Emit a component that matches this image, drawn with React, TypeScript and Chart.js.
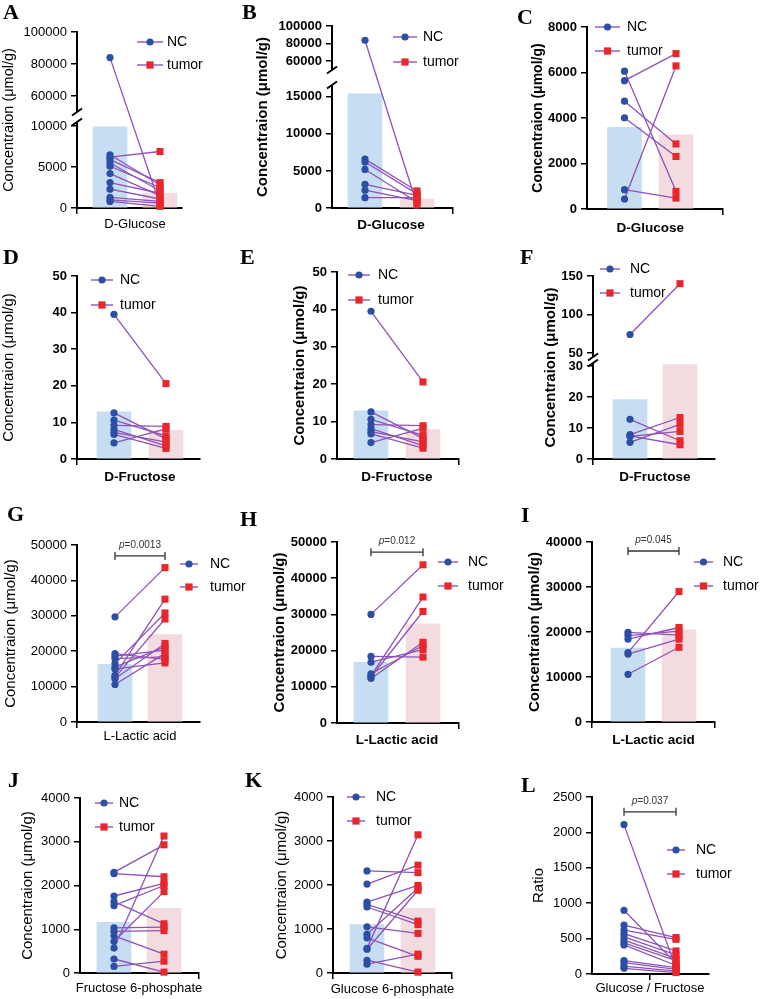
import React, { useEffect, useRef } from 'react';
import { Chart, registerables, LinearScale } from 'chart.js';

// ---------------------------------------------------------------------------
// Measured values (paired samples: NC[i] belongs with tumor[i])
// ---------------------------------------------------------------------------
const glucoseA_nc = [84000, 6500, 6200, 5900, 5500, 5100, 4200, 3100, 2300, 1300, 1000, 800];
const glucoseA_tumor = [400, 2800, 6900, 3100, 2100, 2500, 1500, 1800, 1100, 800, 600, 200];
const glucoseA_means = [9900, 1800];
const glucoseA_ticks = [0, 5000, 10000, 60000, 80000, 100000];

const glucoseB_nc = [83800, 6600, 6200, 5200, 3200, 2400, 1400];
const glucoseB_tumor = [400, 2300, 1900, 800, 1700, 1000, 1400];
const glucoseB_means = [15400, 1200];
const glucoseB_ticks = [0, 5000, 10000, 15000, 60000, 80000, 100000];

const glucoseC_nc = [6060, 5640, 4740, 4010, 850, 440];
const glucoseC_tumor = [775, 6830, 2860, 2310, 480, 6290];
const glucoseC_means = [3590, 3255];
const glucoseC_ticks = [0, 2000, 4000, 6000, 8000];

const fructoseDE_nc = [39.5, 12.6, 10.6, 9.2, 8.1, 7.3, 6.7, 4.4];
const fructoseDE_tumor = [20.6, 5.5, 6.3, 8.9, 3.6, 4.6, 2.9, 8.2];
const fructoseDE_means = [12.9, 7.85];
const fructoseDE_ticks = [0, 10, 20, 30, 40, 50];

const fructoseF_nc = [74, 12.8, 7.9, 7.5, 7.3, 5.4];
const fructoseF_tumor = [140, 5.9, 13.4, 4.6, 8.9, 11.2];
const fructoseF_means = [19.2, 30.5];
const fructoseF_ticks = [0, 10, 20, 30, 50, 100, 150];

const lactateG_nc = [29700, 19300, 18600, 17900, 16500, 15500, 15000, 13200, 12600, 12200, 10600];
const lactateG_tumor = [43600, 17700, 20300, 18400, 30800, 21300, 16700, 34700, 29100, 22200, 19400];
const lactateG_means = [16300, 24700];
const lactateGH_ticks = [0, 10000, 20000, 30000, 40000, 50000];

const lactateH_nc = [30000, 18400, 16800, 13600, 13000, 12700, 12300];
const lactateH_tumor = [43700, 18200, 20300, 21400, 34800, 30800, 22300];
const lactateH_means = [16750, 27400];

const lactateI_nc = [19900, 19200, 18400, 15400, 15100, 10600];
const lactateI_tumor = [19300, 20200, 21000, 29000, 18400, 16600];
const lactateI_means = [16400, 20500];
const lactateI_ticks = [0, 10000, 20000, 30000, 40000];

const f6pJ_nc = [2300, 2270, 1760, 1630, 1540, 1030, 950, 850, 720, 570, 320, 150];
const f6pJ_tumor = [2930, 2200, 2050, 1125, 2000, 1050, 970, 430, 1860, 3130, 20, 270];
const f6pJ_means = [1160, 1480];
const phosphate_ticks = [0, 1000, 2000, 3000, 4000];

const g6pK_nc = [2320, 2020, 1610, 1560, 1500, 1050, 880, 800, 560, 540, 290, 200];
const g6pK_tumor = [2280, 2450, 1990, 1180, 1100, 900, 1930, 380, 3140, 1880, 20, 430];
const g6pK_means = [1100, 1470];

const ratioL_nc = [2110, 900, 690, 620, 570, 525, 480, 440, 410, 190, 160, 110, 80];
const ratioL_tumor = [80, 150, 515, 490, 325, 270, 220, 190, 120, 90, 65, 40, 20];
const ratioL_ticks = [0, 500, 1000, 1500, 2000, 2500];

const groupLabels = ['NC', 'tumor'];
const concTitle = 'Concentraion (μmol/g)';

// ---------------------------------------------------------------------------
// Styling
// ---------------------------------------------------------------------------
const FONT = 'Arial, "Liberation Sans", Helvetica, sans-serif';
const SERIF = '"Liberation Serif", "Times New Roman", Times, serif';
const NC_BLUE = '#2c4fa5';
const TUMOR_RED = '#e8262b';
const PAIR_LINE = '#8e52b8';
const BAR_NC = '#c7ddf1';
const BAR_TUMOR = '#f2dcdf';

// y scale that supports one axis break (lower segment 0..breaks[0], upper breaks[1]..max)
class BrokenLinearScale extends LinearScale {
  static id = 'brokenLinear';

  buildTicks() {
    const vals: number[] = (this.options as any).tickValues || [];
    return vals.map((v: number) => ({ value: v }));
  }

  breakFraction(v: number): number {
    const o: any = this.options;
    const br: number[] = o.breaks;
    const bf: number[] = o.breakFracs;
    const min = this.min;
    const max = this.max;
    if (v <= br[0]) return ((v - min) / (br[0] - min)) * bf[0];
    if (v >= br[1]) return bf[1] + ((v - br[1]) / (max - br[1])) * (1 - bf[1]);
    return bf[0] + ((v - br[0]) / (br[1] - br[0])) * (bf[1] - bf[0]);
  }

  getPixelForValue(value: number) {
    const o: any = this.options;
    if (value === null || value === undefined || isNaN(value)) return NaN;
    if (!o.breaks) return super.getPixelForValue(value);
    return this.getPixelForDecimal(this.breakFraction(value));
  }

  drawBorder() {
    const o: any = this.options;
    if (!o.breaks) {
      super.drawBorder();
      return;
    }
    const br: number[] = o.breaks;
    const ctx = this.ctx;
    const x = this.right;
    const yLowTop = this.getPixelForValue(br[0]);
    const yHighBottom = this.getPixelForValue(br[1]);
    ctx.save();
    ctx.strokeStyle = '#000';
    ctx.lineWidth = 2;
    ctx.lineCap = 'butt';
    ctx.beginPath();
    ctx.moveTo(x, this.bottom + 1);
    ctx.lineTo(x, yLowTop);
    ctx.moveTo(x, yHighBottom);
    ctx.lineTo(x, this.top - 1);
    // break marks
    ctx.moveTo(x - 5, yLowTop + 3.5);
    ctx.lineTo(x + 5, yLowTop - 3.5);
    ctx.moveTo(x - 5, yHighBottom + 3.5);
    ctx.lineTo(x + 5, yHighBottom - 3.5);
    ctx.stroke();
    ctx.restore();
  }
}

Chart.register(...registerables, BrokenLinearScale);

// ---------------------------------------------------------------------------
// Panel definitions
// ---------------------------------------------------------------------------
interface PanelSpec {
  id: string;
  category: string;
  yTitle: string;
  nc: number[];
  tumor: number[];
  means?: number[];
  ticks: number[];
  yMax: number;
  breaks?: number[];
  pText?: string;
  pValue?: number;
  // layout (page pixels)
  box: number[]; // left, top, width, height of the canvas
  area: number[]; // chart area left, top, right, bottom
  centers: number[]; // x pixel of the NC and tumor columns
  breakFracs?: number[];
  tickBold: boolean;
  titleBold: boolean;
  titleSize: number;
  titlePad: number;
  xBold: boolean;
  xPad: number;
  legend: number[]; // line x1, line x2, text x, y NC, y tumor
  letterPos: number[];
}

const PANELS: PanelSpec[] = [
  {
    id: 'A', category: 'D-Glucose', yTitle: concTitle,
    nc: glucoseA_nc, tumor: glucoseA_tumor, means: glucoseA_means, ticks: glucoseA_ticks,
    yMax: 100000, breaks: [10500, 50000], breakFracs: [0.4886, 0.5455],
    box: [0, 0, 250, 236], area: [77, 32, 182, 208], centers: [110, 160],
    tickBold: false, titleBold: false, titleSize: 14.5, titlePad: 0, xBold: false, xPad: 3,
    legend: [137, 163, 167, 42, 65], letterPos: [3, 1],
  },
  {
    id: 'B', category: 'D-Glucose', yTitle: concTitle,
    nc: glucoseB_nc, tumor: glucoseB_tumor, means: glucoseB_means, ticks: glucoseB_ticks,
    yMax: 100000, breaks: [16600, 50000], breakFracs: [0.6758, 0.7582],
    box: [250, 0, 255, 236], area: [332, 26, 453, 208], centers: [365, 417],
    tickBold: true, titleBold: true, titleSize: 15, titlePad: 4, xBold: true, xPad: 3,
    legend: [393, 417, 423, 37, 62], letterPos: [242, 1],
  },
  {
    id: 'C', category: 'D-Glucose', yTitle: concTitle,
    nc: glucoseC_nc, tumor: glucoseC_tumor, means: glucoseC_means, ticks: glucoseC_ticks,
    yMax: 8000,
    box: [505, 0, 259, 236], area: [587, 27, 723, 209], centers: [624.5, 676],
    tickBold: true, titleBold: true, titleSize: 14, titlePad: 25, xBold: true, xPad: 5,
    legend: [595, 620, 627, 27, 51], letterPos: [517, 6],
  },
  {
    id: 'D', category: 'D-Fructose', yTitle: concTitle,
    nc: fructoseDE_nc, tumor: fructoseDE_tumor, means: fructoseDE_means, ticks: fructoseDE_ticks,
    yMax: 50,
    box: [0, 236, 250, 254], area: [77, 276, 200, 459], centers: [114, 166],
    tickBold: true, titleBold: false, titleSize: 15, titlePad: 0, xBold: true, xPad: 4,
    legend: [91, 113, 120, 280, 305], letterPos: [3, 246],
  },
  {
    id: 'E', category: 'D-Fructose', yTitle: concTitle,
    nc: fructoseDE_nc, tumor: fructoseDE_tumor, means: fructoseDE_means, ticks: fructoseDE_ticks,
    yMax: 50,
    box: [250, 236, 255, 254], area: [337, 272, 459, 459], centers: [371, 423],
    tickBold: true, titleBold: true, titleSize: 15, titlePad: 41, xBold: true, xPad: 4,
    legend: [348, 370, 378, 275, 300], letterPos: [240, 246],
  },
  {
    id: 'F', category: 'D-Fructose', yTitle: concTitle,
    nc: fructoseF_nc, tumor: fructoseF_tumor, means: fructoseF_means, ticks: fructoseF_ticks,
    yMax: 150, breaks: [31, 44.8], breakFracs: [0.5246, 0.5574],
    box: [505, 236, 259, 254], area: [593, 276, 715, 459], centers: [630, 680],
    tickBold: true, titleBold: true, titleSize: 15, titlePad: 37, xBold: true, xPad: 4,
    legend: [600, 620, 630, 269, 293], letterPos: [520, 246],
  },
  {
    id: 'G', category: 'L-Lactic acid', yTitle: concTitle,
    nc: lactateG_nc, tumor: lactateG_tumor, means: lactateG_means, ticks: lactateGH_ticks,
    yMax: 50000, pText: '0.0013', pValue: 46900,
    box: [0, 490, 250, 260], area: [77, 545, 200, 722], centers: [115, 165],
    tickBold: false, titleBold: false, titleSize: 15, titlePad: 2, xBold: false, xPad: 1,
    legend: [180, 198, 210, 564, 587], letterPos: [7, 503],
  },
  {
    id: 'H', category: 'L-Lactic acid', yTitle: concTitle,
    nc: lactateH_nc, tumor: lactateH_tumor, means: lactateH_means, ticks: lactateGH_ticks,
    yMax: 50000, pText: '0.012', pValue: 47200,
    box: [250, 490, 255, 260], area: [337, 542, 459, 723], centers: [371, 423],
    tickBold: true, titleBold: true, titleSize: 15, titlePad: 21, xBold: true, xPad: 3,
    legend: [438, 458, 468, 562, 586], letterPos: [240, 508],
  },
  {
    id: 'I', category: 'L-Lactic acid', yTitle: concTitle,
    nc: lactateI_nc, tumor: lactateI_tumor, means: lactateI_means, ticks: lactateI_ticks,
    yMax: 40000, pText: '0.045', pValue: 38000,
    box: [505, 490, 259, 260], area: [592, 542, 715, 722], centers: [628, 679],
    tickBold: true, titleBold: true, titleSize: 15, titlePad: 21, xBold: true, xPad: 4,
    legend: [694, 713, 723, 562, 586], letterPos: [521, 504],
  },
  {
    id: 'J', category: 'Fructose 6-phosphate', yTitle: concTitle,
    nc: f6pJ_nc, tumor: f6pJ_tumor, means: f6pJ_means, ticks: phosphate_ticks,
    yMax: 4000,
    box: [0, 750, 250, 249], area: [80, 798, 199, 973], centers: [114, 164],
    tickBold: false, titleBold: false, titleSize: 15, titlePad: 19, xBold: false, xPad: 2,
    legend: [95, 113, 119, 803, 827], letterPos: [8, 769],
  },
  {
    id: 'K', category: 'Glucose 6-phosphate', yTitle: concTitle,
    nc: g6pK_nc, tumor: g6pK_tumor, means: g6pK_means, ticks: phosphate_ticks,
    yMax: 4000,
    box: [250, 750, 255, 249], area: [333, 797, 452, 973], centers: [367, 418],
    tickBold: false, titleBold: false, titleSize: 15, titlePad: 23, xBold: false, xPad: 3,
    legend: [347, 365, 376, 797, 821], letterPos: [245, 769],
  },
  {
    id: 'L', category: 'Glucose / Fructose', yTitle: 'Ratio',
    nc: ratioL_nc, tumor: ratioL_tumor, ticks: ratioL_ticks,
    yMax: 2500, pText: '0.037', pValue: 2290,
    box: [505, 750, 259, 249], area: [592, 797, 709, 974], centers: [624, 676],
    tickBold: false, titleBold: false, titleSize: 15, titlePad: 25, xBold: false, xPad: 1,
    legend: [667, 685, 696, 850, 874], letterPos: [521, 774],
  },
];

// ---------------------------------------------------------------------------
// Plugins
// ---------------------------------------------------------------------------
function legendPlugin(spec: PanelSpec) {
  return {
    id: 'pairLegend',
    afterDraw(chart: any) {
      const ctx: CanvasRenderingContext2D = chart.ctx;
      const [bx, by] = spec.box;
      const [x1, x2, tx, yNC, yT] = spec.legend;
      const rows = [
        { y: yNC, label: groupLabels[0], style: 'circle' },
        { y: yT, label: groupLabels[1], style: 'rect' },
      ];
      ctx.save();
      rows.forEach((r) => {
        const y = r.y - by;
        const a = x1 - bx;
        const b = x2 - bx;
        ctx.strokeStyle = PAIR_LINE;
        ctx.lineWidth = 1.4;
        ctx.beginPath();
        ctx.moveTo(a, y);
        ctx.lineTo(b, y);
        ctx.stroke();
        const cx = (a + b) / 2;
        if (r.style === 'circle') {
          ctx.fillStyle = NC_BLUE;
          ctx.beginPath();
          ctx.arc(cx, y, 3.6, 0, Math.PI * 2);
          ctx.fill();
        } else {
          ctx.fillStyle = TUMOR_RED;
          ctx.fillRect(cx - 3.6, y - 3.6, 7.2, 7.2);
        }
        ctx.fillStyle = '#000';
        ctx.font = `14px ${FONT}`;
        ctx.textAlign = 'left';
        ctx.textBaseline = 'middle';
        ctx.fillText(r.label, tx - bx, y + 0.5);
      });
      ctx.restore();
    },
  };
}

function bracketPlugin(spec: PanelSpec) {
  return {
    id: 'pBracket',
    afterDraw(chart: any) {
      if (!spec.pText || spec.pValue === undefined) return;
      const ctx: CanvasRenderingContext2D = chart.ctx;
      const xs = chart.scales.x;
      const ys = chart.scales.y;
      const x1 = xs.getPixelForValue(1);
      const x2 = xs.getPixelForValue(2);
      const yy = ys.getPixelForValue(spec.pValue);
      ctx.save();
      ctx.strokeStyle = '#333';
      ctx.lineWidth = 1.3;
      ctx.beginPath();
      ctx.moveTo(x1, yy);
      ctx.lineTo(x2, yy);
      ctx.moveTo(x1, yy - 4);
      ctx.lineTo(x1, yy + 4);
      ctx.moveTo(x2, yy - 4);
      ctx.lineTo(x2, yy + 4);
      ctx.stroke();
      const fItalic = `italic 10px ${FONT}`;
      const fNorm = `10px ${FONT}`;
      const rest = '=' + spec.pText;
      ctx.font = fItalic;
      const wp = ctx.measureText('p').width;
      ctx.font = fNorm;
      const wr = ctx.measureText(rest).width;
      const sx = (x1 + x2) / 2 - (wp + wr) / 2;
      const ty = yy - 11;
      ctx.fillStyle = '#333';
      ctx.textAlign = 'left';
      ctx.textBaseline = 'middle';
      ctx.font = fItalic;
      ctx.fillText('p', sx, ty);
      ctx.font = fNorm;
      ctx.fillText(rest, sx + wp, ty);
      ctx.restore();
    },
  };
}

// ---------------------------------------------------------------------------
// One paired-sample panel
// ---------------------------------------------------------------------------
function PairedPanel({ spec }: { spec: PanelSpec }) {
  const ref = useRef<HTMLCanvasElement>(null);

  useEffect(() => {
    const canvas = ref.current;
    if (!canvas) return;
    const [bx, by, bw, bh] = spec.box;
    const [al, at, ar, ab] = spec.area;
    const [cNC, cT] = spec.centers;
    const unit = cT - cNC;
    const xMin = 1 - (cNC - al) / unit;
    const xMax = 2 + (ar - cT) / unit;

    const datasets: any[] = [];
    if (spec.means) {
      datasets.push({
        type: 'bar',
        data: [
          { x: 1, y: spec.means[0] },
          { x: 2, y: spec.means[1] },
        ],
        backgroundColor: [BAR_NC, BAR_TUMOR],
        borderWidth: 0,
        barThickness: 34,
        order: 3,
      });
    }
    spec.nc.forEach((v, i) => {
      datasets.push({
        type: 'line',
        data: [
          { x: 1, y: v },
          { x: 2, y: spec.tumor[i] },
        ],
        showLine: true,
        borderColor: PAIR_LINE,
        borderWidth: 1.3,
        pointRadius: 0,
        fill: false,
        clip: false,
        order: 2,
      });
    });
    datasets.push({
      type: 'line',
      label: groupLabels[0],
      data: spec.nc.map((v) => ({ x: 1, y: v })),
      showLine: false,
      pointStyle: 'circle',
      pointRadius: 3.6,
      pointBackgroundColor: NC_BLUE,
      pointBorderColor: NC_BLUE,
      pointBorderWidth: 0,
      clip: false,
      order: 1,
    });
    datasets.push({
      type: 'line',
      label: groupLabels[1],
      data: spec.tumor.map((v) => ({ x: 2, y: v })),
      showLine: false,
      pointStyle: 'rect',
      pointRadius: 5,
      pointBackgroundColor: TUMOR_RED,
      pointBorderColor: TUMOR_RED,
      pointBorderWidth: 0,
      clip: false,
      order: 1,
    });

    const chart = new Chart(canvas, {
      type: 'scatter',
      data: { datasets },
      options: {
        responsive: false,
        animation: false,
        events: [],
        layout: { padding: { top: at - by, right: bx + bw - ar, bottom: 0, left: 0 } },
        plugins: { legend: { display: false }, tooltip: { enabled: false } },
        scales: {
          x: {
            type: 'linear',
            min: xMin,
            max: xMax,
            offset: false,
            afterBuildTicks: (s: any) => {
              s.ticks = [{ value: 1.5 }];
            },
            afterFit: (s: any) => {
              s.height = by + bh - ab;
            },
            grid: { display: true, drawOnChartArea: false, drawTicks: true, tickLength: 6, color: '#000', lineWidth: 1.5 },
            border: { display: true, color: '#000', width: 2 },
            ticks: {
              autoSkip: false,
              maxRotation: 0,
              padding: spec.xPad,
              color: '#000',
              font: { family: FONT, size: spec.xBold ? 13.5 : 13, weight: spec.xBold ? 'bold' : 'normal' },
              callback: () => spec.category,
            },
          },
          y: {
            type: 'brokenLinear',
            min: 0,
            max: spec.yMax,
            tickValues: spec.ticks,
            breaks: spec.breaks,
            breakFracs: spec.breakFracs,
            afterFit: (s: any) => {
              s.width = al - bx;
            },
            grid: { display: true, drawOnChartArea: false, drawTicks: true, tickLength: 6, color: '#000', lineWidth: 1.5 },
            border: { display: true, color: '#000', width: 2 },
            ticks: {
              autoSkip: false,
              padding: 4,
              color: '#000',
              font: { family: FONT, size: 13, weight: spec.tickBold ? 'bold' : 'normal' },
              callback: (v: any) => String(v),
            },
            title: {
              display: true,
              text: spec.yTitle,
              color: '#000',
              font: { family: FONT, size: spec.titleSize, weight: spec.titleBold ? 'bold' : 'normal' },
              padding: { top: spec.titlePad, bottom: 0 },
            },
          } as any,
        },
      },
      plugins: [legendPlugin(spec), bracketPlugin(spec)],
    } as any);

    return () => chart.destroy();
  }, [spec]);

  const [bx, by, bw, bh] = spec.box;
  return (
    <canvas
      ref={ref}
      width={bw}
      height={bh}
      style={{ position: 'absolute', left: bx, top: by, width: bw, height: bh }}
    />
  );
}

export default function App() {
  return (
    <div
      style={{
        position: 'fixed',
        left: 0,
        top: 0,
        width: 764,
        height: 999,
        background: '#fff',
        overflow: 'hidden',
      }}
    >
      {PANELS.map((p) => (
        <PairedPanel key={p.id} spec={p} />
      ))}
      {PANELS.map((p) => (
        <div
          key={'lbl' + p.id}
          style={{
            position: 'absolute',
            left: p.letterPos[0],
            top: p.letterPos[1],
            fontFamily: SERIF,
            fontWeight: 'bold',
            fontSize: 22,
            lineHeight: '22px',
            color: '#000',
          }}
        >
          {p.id}
        </div>
      ))}
    </div>
  );
}
